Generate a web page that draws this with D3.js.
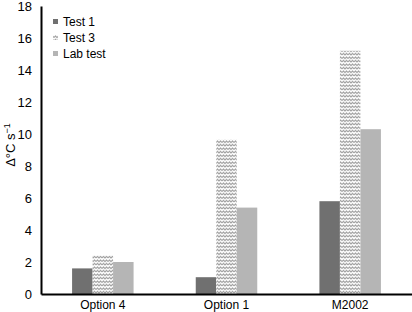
<!DOCTYPE html>
<html>
<head>
<meta charset="utf-8">
<script src="https://cdn.jsdelivr.net/npm/d3@7"></script>
<style>
body{margin:0;background:#fff;}
text{font-family:"Liberation Sans",Arial,sans-serif;}
</style>
</head>
<body>
<div id="chart"></div>
<script>
let chart_width = 412;
let chart_height = 312;

let categories = ['Option 4','Option 1','M2002'];
let series_names = ['Test 1','Test 3','Lab test'];
let test1 = [1.6, 1.05, 5.8];
let test3 = [2.4, 9.65, 15.2];
let lab_test = [2.0, 5.4, 10.3];
let y_ticks = [0,2,4,6,8,10,12,14,16,18];

let series = [test1, test3, lab_test];
let fills = ['#707070','url(#zigzag)','#b5b5b5'];

let svg = d3.select('#chart')
    .append('svg')
    .attr('width',chart_width)
    .attr('height',chart_height);

// zigzag hatch for Test 3
let pat = svg.append('defs')
    .append('pattern')
    .attr('id','zigzag')
    .attr('patternUnits','userSpaceOnUse')
    .attr('width',6)
    .attr('height',3.5);
pat.append('rect').attr('width',6).attr('height',3.5).attr('fill','#fff');
pat.append('path')
    .attr('d','M0,2.5 L1.5,1 L3,2.5 L4.5,1 L6,2.5')
    .attr('fill','none')
    .attr('stroke','#909090')
    .attr('stroke-width',1);

const xScale = d3.scaleBand().domain(categories).range([41,412]);
const yScale = d3.scaleLinear().domain([0,18]).range([294,6]);
const bar_w = 20.5;

let data = [];
categories.forEach(function(c,i){
    series.forEach(function(s,j){
        data.push({'cat':c,'k':j,'v':s[i]});
    });
});

svg.append('g')
    .selectAll('rect')
    .data(data)
    .enter()
    .append('rect')
    .attr('x',d=>xScale(d.cat)+xScale.bandwidth()/2-bar_w*1.5+d.k*bar_w)
    .attr('y',d=>yScale(d.v))
    .attr('width',bar_w)
    .attr('height',d=>yScale(0)-yScale(d.v))
    .attr('fill',d=>fills[d.k]);

// y axis
let yAxis = svg.append('g')
    .attr('transform','translate(41,0)')
    .call(d3.axisLeft(yScale).tickValues(y_ticks).tickSize(0).tickPadding(9));
yAxis.select('.domain').attr('stroke','#000').attr('stroke-width',2);
yAxis.selectAll('text').style('font-size','13px').attr('fill','#000');

// x axis
let xAxis = svg.append('g')
    .attr('transform','translate(0,294)')
    .call(d3.axisBottom(xScale).tickSize(0).tickPadding(6));
xAxis.select('.domain').attr('stroke','#000').attr('stroke-width',2);
xAxis.selectAll('text').style('font-size','12px').attr('fill','#000');

// y label
let ylab = svg.append('text')
    .attr('transform','translate(15,145) rotate(-90)')
    .attr('text-anchor','middle')
    .style('font-size','13px');
ylab.append('tspan').text('\u0394\u00b0C s');
ylab.append('tspan').attr('dy',-5).style('font-size','9px').text('\u22121');

// legend
let legend = svg.append('g');
series_names.forEach(function(name,i){
    let ly = 22 + i*16;
    legend.append('rect')
        .attr('x',53)
        .attr('y',ly-3)
        .attr('width',5)
        .attr('height',5)
        .attr('fill',fills[i]);
    legend.append('text')
        .attr('x',63)
        .attr('y',ly+4)
        .style('font-size','12px')
        .text(name);
});
</script>
</body>
</html>
